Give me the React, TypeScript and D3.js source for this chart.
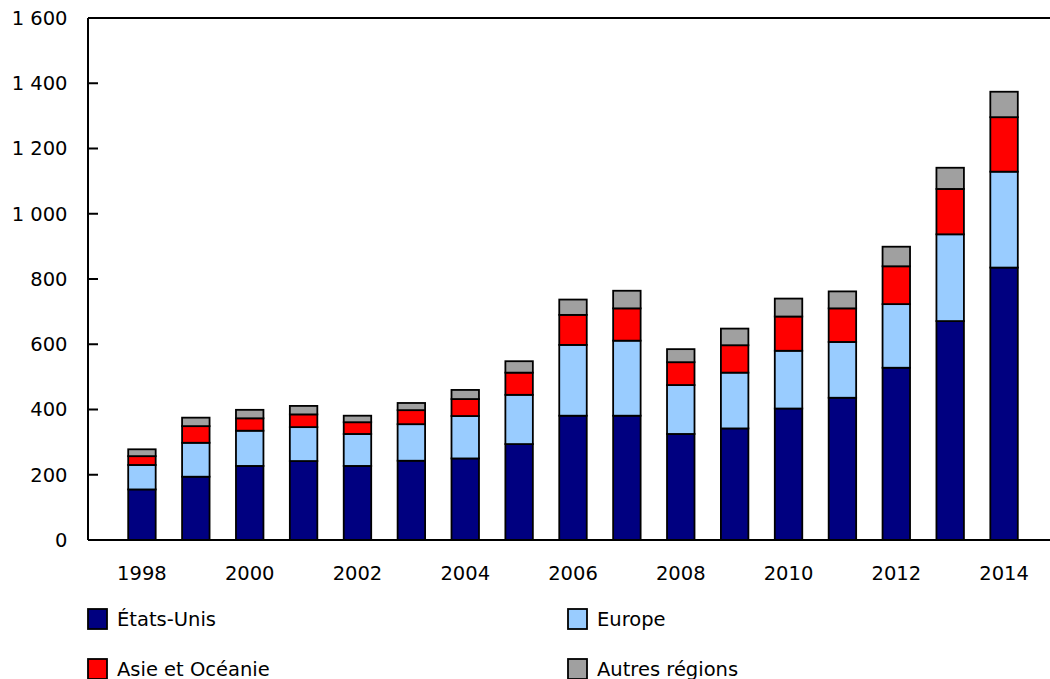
import React from "react";
import * as d3 from "d3";

const years = [1998,1999,2000,2001,2002,2003,2004,2005,2006,2007,2008,2009,2010,2011,2012,2013,2014];
const etatsUnis = [155,194,227,242,227,243,250,294,381,381,325,342,403,436,528,671,835];
const europe = [75,104,108,104,98,112,130,151,217,230,150,171,177,171,195,266,294];
const asieOceanie = [27,51,38,39,36,43,52,68,92,99,70,84,105,103,116,139,167];
const autres = [21,26,26,26,20,22,28,35,47,54,40,51,55,52,60,65,78];
const seriesNames = ["États-Unis","Europe","Asie et Océanie","Autres régions"];
const seriesColors = ["#000080","#99CCFF","#FF0000","#A0A0A0"];
const yTicks = [0,200,400,600,800,1000,1200,1400,1600];
const xTickYears = [1998,2000,2002,2004,2006,2008,2010,2012,2014];

const W = 1050, H = 679;
const FONT = "'DejaVu Sans', Verdana, sans-serif";
const FS = 19.5;

export default function App() {
  const x0 = 88, yBottom = 540, yTop = 18;
  const y = d3.scaleLinear().domain([0, 1600]).range([yBottom, yTop]);
  const x = d3.scaleBand<number>().domain(years).range([115, 1031]).paddingInner(0.49).paddingOuter(0.245);
  const fmt = d3.formatLocale({ decimal: ",", thousands: "\u00a0", grouping: [3], currency: ["", ""] }).format(",d");

  const table = years.map((yr, i) => ({
    year: yr,
    s0: etatsUnis[i], s1: europe[i], s2: asieOceanie[i], s3: autres[i],
  }));
  const stack = d3.stack<any>().keys(["s0","s1","s2","s3"]);
  const layers = stack(table);

  return (
    <svg width={W} height={H} style={{ position: "absolute", left: 0, top: 0, background: "#fff" }}>
      {layers.map((layer, li) => (
        <g key={li}>
          {layer.map((d, i) => (
            <rect
              key={i}
              x={x(years[i])!}
              y={y(d[1])}
              width={x.bandwidth()}
              height={y(d[0]) - y(d[1])}
              fill={seriesColors[li]}
              stroke="#000"
              strokeWidth={1.8}
            />
          ))}
        </g>
      ))}
      <line x1={x0} x2={x0} y1={yTop} y2={yBottom} stroke="#000" strokeWidth={2} />
      <line x1={x0} x2={W} y1={yTop} y2={yTop} stroke="#000" strokeWidth={2} />
      <line x1={x0} x2={W} y1={yBottom} y2={yBottom} stroke="#000" strokeWidth={2} />
      {yTicks.map((t) => (
        <g key={t}>
          {t > 0 && t < 1600 && (
            <line x1={x0} x2={x0 + 10} y1={y(t)} y2={y(t)} stroke="#000" strokeWidth={2} />
          )}
          <text x={67.5} y={y(t)} dy="0.35em" textAnchor="end" fontFamily={FONT} fontSize={FS} fill="#000" xmlSpace="preserve">
            {fmt(t)}
          </text>
        </g>
      ))}
      {xTickYears.map((yr) => (
        <text key={yr} x={x(yr)! + x.bandwidth() / 2} y={580} textAnchor="middle" fontFamily={FONT} fontSize={FS} fill="#000">
          {yr}
        </text>
      ))}
      {seriesNames.map((name, i) => {
        const col = i % 2, row = Math.floor(i / 2);
        const lx = col === 0 ? 88 : 568;
        const ly = 609 + row * 50;
        return (
          <g key={name}>
            <rect x={lx} y={ly} width={19} height={20} fill={seriesColors[i]} stroke="#000" strokeWidth={1.8} />
            <text x={lx + 29} y={ly + 17} fontFamily={FONT} fontSize={FS} fill="#000">{name}</text>
          </g>
        );
      })}
    </svg>
  );
}
